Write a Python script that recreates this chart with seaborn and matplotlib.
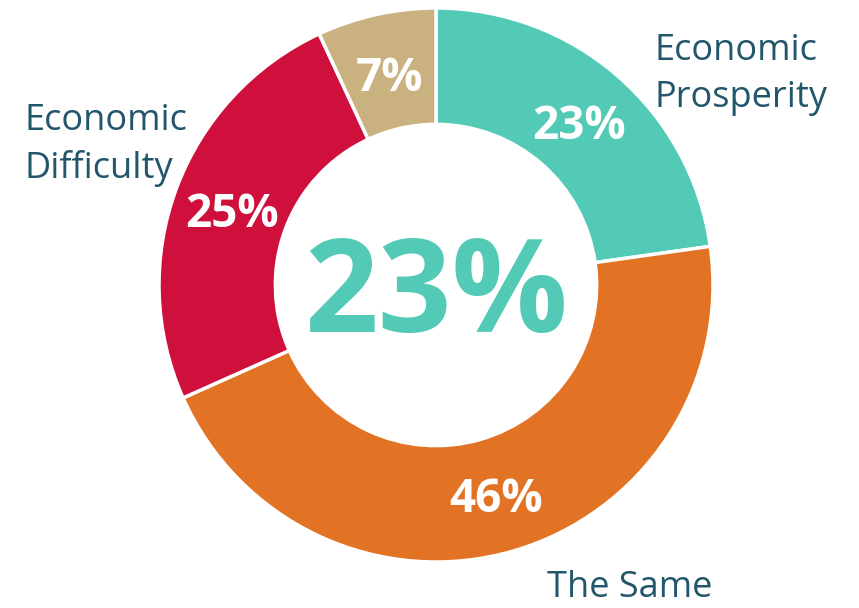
import numpy as np
import seaborn as sns
import matplotlib.pyplot as plt

# share of respondents, clockwise from 12 o'clock
categories = ["Economic Prosperity", "The Same", "Economic Difficulty", "No answer"]
shares = [23, 46, 25, 7]
pct_labels = ["23%", "46%", "25%", "7%"]
headline = "23%"

colors = ["#53CAB6", "#E37324", "#D0103C", "#C9B27F"]
text_color = "#22566B"

sns.set_theme(style="white")
plt.rcParams["font.family"] = ["Open Sans", "DejaVu Sans"]

fig = plt.figure(figsize=(8.59, 6.08), dpi=100)
ax = fig.add_axes([0, 0, 1, 1])

wedges, _ = ax.pie(
    shares,
    colors=colors,
    startangle=90,
    counterclock=False,
    radius=1,
    wedgeprops=dict(width=0.42, edgecolor="white", linewidth=2.5),
)

# percentage labels at the middle of each ring segment
for w, lab in zip(wedges, pct_labels):
    ang = np.deg2rad((w.theta1 + w.theta2) / 2)
    ax.text(0.785 * np.cos(ang), 0.785 * np.sin(ang) - 0.02, lab,
            ha="center", va="center", color="white",
            fontsize=33, fontweight="bold")

ax.text(0.0, -0.17, headline, ha="center", va="baseline",
        color=colors[0], fontsize=93, fontweight="bold")

ax.text(0.79, 0.76, "Economic\nProsperity", ha="left", va="center",
        color=text_color, fontsize=26, linespacing=1.42)
ax.text(-1.484, 0.505, "Economic\nDifficulty", ha="left", va="center",
        color=text_color, fontsize=26, linespacing=1.42)
ax.text(0.40, -1.094, "The Same", ha="left", va="center",
        color=text_color, fontsize=26)

ax.set_xlim(-436 / 277, (859 - 436) / 277)
ax.set_ylim(-323 / 277, 285 / 277)
ax.set_aspect("auto")
ax.axis("off")

fig.savefig("out.png", dpi=100)
